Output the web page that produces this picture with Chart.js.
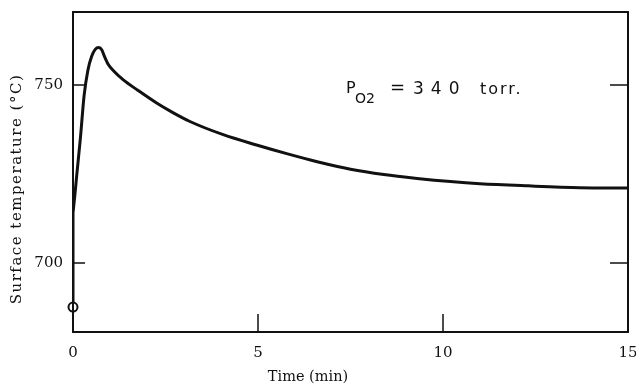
<!DOCTYPE html>
<html>
<head>
<meta charset="utf-8">
<script src="https://cdn.jsdelivr.net/npm/chart.js@4/dist/chart.umd.min.js"></script>
<style>
  body { margin: 0; background: #fff; }
  #wrap { width: 636px; height: 384px; }
</style>
</head>
<body>
<div id="wrap"><canvas id="chart" width="636" height="384"></canvas></div>
<script>
// values (time in min, surface temperature in °C)
const timeMin = [0, 0.05, 0.1, 0.2, 0.3, 0.4, 0.5, 0.6, 0.7, 0.78, 0.85, 0.95, 1.1, 1.36, 1.75, 2.26, 2.7, 3.16, 4.06, 4.96, 5.8, 6.6, 7.5, 8.4, 9.3, 10.2, 11.0, 12.3, 13.7, 15];
const surfTemp = [714, 719, 724.5, 735, 747, 754, 757.9, 760, 760.5, 759.8, 758, 755.8, 753.9, 751.4, 748.5, 744.9, 742.2, 739.7, 736, 733.1, 730.6, 728.4, 726.3, 724.8, 723.7, 722.8, 722.2, 721.6, 721.1, 721];
// initial jump straight up the axis from the starting point
const jumpTime = [0, 0];
const jumpTemp = [688.8, 714];
const startTime = [0];
const startTemp = [687.5];
const xTicks = [0, 5, 10, 15];
const yTicks = [700, 750];
const xTitle = 'Time (min)';
const yTitle = 'Surface temperature (°C)';

const serif = '"DejaVu Serif", "Liberation Serif", serif';
const sans = '"DejaVu Sans", "Liberation Sans", sans-serif';

const toPoints = (xs, ys) => xs.map((x, i) => ({ x, y: ys[i] }));

// frame, inward ticks, tick labels and text
const framePlugin = {
  id: 'frame',
  afterDraw(chart) {
    const { ctx, chartArea: a, scales } = chart;
    const xs = scales.x, ys = scales.y;
    ctx.save();
    ctx.strokeStyle = '#111';
    ctx.lineWidth = 2;
    ctx.strokeRect(a.left, a.top, a.right - a.left, a.bottom - a.top);
    ctx.beginPath();
    xTicks.slice(1, -1).forEach(v => {
      const px = Math.round(xs.getPixelForValue(v));
      ctx.moveTo(px, a.bottom);
      ctx.lineTo(px, a.bottom - 18);
    });
    yTicks.forEach(v => {
      const py = Math.round(ys.getPixelForValue(v));
      ctx.moveTo(a.left, py);
      ctx.lineTo(a.left + 12, py);
      ctx.moveTo(a.right, py);
      ctx.lineTo(a.right - 18, py);
    });
    ctx.lineWidth = 1.5;
    ctx.stroke();

    ctx.fillStyle = '#111';
    ctx.font = '15px ' + serif;
    ctx.textBaseline = 'middle';
    ctx.textAlign = 'center';
    xTicks.forEach(v => ctx.fillText(String(v), xs.getPixelForValue(v), a.bottom + 21));
    ctx.textAlign = 'right';
    yTicks.forEach(v => ctx.fillText(String(v), a.left - 10, ys.getPixelForValue(v)));

    ctx.textAlign = 'center';
    ctx.font = '14.5px ' + serif;
    ctx.fillText(xTitle, 308, 377);
    ctx.save();
    ctx.translate(17, 189);
    ctx.rotate(-Math.PI / 2);
    ctx.font = '15px ' + serif;
    ctx.letterSpacing = '1.5px';
    ctx.fillText(yTitle, 0, 0);
    ctx.restore();

    // P_O2 = 340 torr.
    ctx.textAlign = 'left';
    ctx.textBaseline = 'alphabetic';
    ctx.font = '16px ' + sans;
    ctx.fillText('P', 346, 93);
    ctx.font = '14px ' + sans;
    ctx.fillText('O2', 355, 103);
    ctx.font = '18px ' + sans;
    ctx.fillText('=', 390, 93);
    ctx.font = '17px ' + sans;
    ctx.letterSpacing = '7px';
    ctx.fillText('340', 413, 94);
    ctx.letterSpacing = '2px';
    ctx.font = '16px ' + sans;
    ctx.fillText('torr.', 480, 94);
    ctx.restore();
  }
};

new Chart(document.getElementById('chart'), {
  type: 'line',
  data: {
    datasets: [
      {
        data: toPoints(timeMin, surfTemp),
        borderColor: '#111',
        borderWidth: 3,
        pointRadius: 0,
        fill: false,
        cubicInterpolationMode: 'monotone'
      },
      {
        data: toPoints(jumpTime, jumpTemp),
        borderColor: '#111',
        borderWidth: 3,
        pointRadius: 0,
        fill: false,
        tension: 0
      },
      {
        data: toPoints(startTime, startTemp),
        showLine: false,
        clip: false,
        pointRadius: 4.5,
        pointBorderWidth: 2,
        pointBorderColor: '#111',
        pointBackgroundColor: '#fff'
      }
    ]
  },
  options: {
    responsive: false,
    animation: false,
    layout: { padding: { top: 12, right: 8, left: 0, bottom: 0 } },
    plugins: { legend: { display: false }, tooltip: { enabled: false } },
    scales: {
      x: {
        type: 'linear',
        min: 0,
        max: 15,
        afterFit: s => { s.height = 52; },
        grid: { display: false, drawTicks: false },
        border: { display: false },
        ticks: { display: false }
      },
      y: {
        min: 680.5,
        max: 770.5,
        afterFit: s => { s.width = 73; },
        grid: { display: false, drawTicks: false },
        border: { display: false },
        ticks: { display: false }
      }
    }
  },
  plugins: [framePlugin]
});
</script>
</body>
</html>
